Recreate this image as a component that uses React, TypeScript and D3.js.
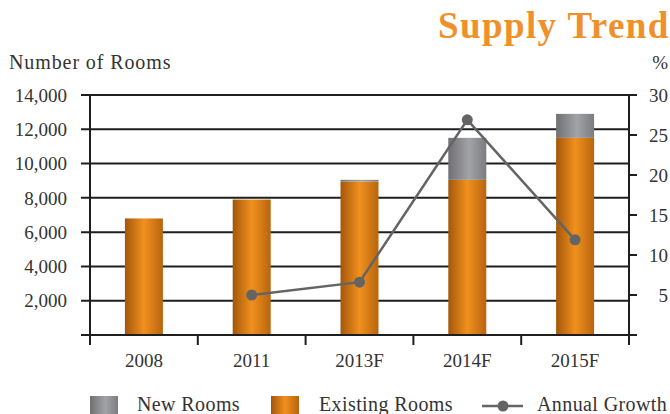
import { useEffect, useRef } from 'react';
import * as d3 from 'd3';

const categories = ['2008', '2011', '2013F', '2014F', '2015F'];
const existingRooms = [6800, 7900, 8950, 9050, 11500];
const newRooms = [0, 0, 100, 2450, 1400];
const annualGrowth: (number | null)[] = [null, 5.0, 6.6, 26.9, 11.9];
const leftTicks = [2000, 4000, 6000, 8000, 10000, 12000, 14000];
const rightTicks = [5, 10, 15, 20, 25, 30];

const W = 670;
const H = 414;
const FONT = '"Liberation Serif", "DejaVu Serif", serif';

export default function App() {
  const svgRef = useRef<SVGSVGElement>(null);

  useEffect(() => {
    if (!svgRef.current) return;
    const svg = d3.select(svgRef.current);
    svg.selectAll('*').remove();

    const left = 90;
    const right = 629;
    const top = 95;
    const bottom = 335;

    const x = d3.scaleBand<string>().domain(categories).range([left, right]).paddingInner(0).paddingOuter(0);
    const yL = d3.scaleLinear().domain([0, 14000]).range([bottom, top]);
    const yR = d3.scaleLinear().domain([0, 30]).range([bottom, top]);
    const barW = 38;

    // gradients
    const defs = svg.append('defs');
    const orange = defs.append('linearGradient').attr('id', 'orangeGrad').attr('x1', '0%').attr('x2', '100%');
    orange.append('stop').attr('offset', '0%').attr('stop-color', '#a3570b');
    orange.append('stop').attr('offset', '50%').attr('stop-color', '#f1901e');
    orange.append('stop').attr('offset', '100%').attr('stop-color', '#b8650f');
    const grey = defs.append('linearGradient').attr('id', 'greyGrad').attr('x1', '0%').attr('x2', '100%');
    grey.append('stop').attr('offset', '0%').attr('stop-color', '#707073');
    grey.append('stop').attr('offset', '55%').attr('stop-color', '#a2a3a6');
    grey.append('stop').attr('offset', '100%').attr('stop-color', '#7c7c80');

    // title
    svg.append('text')
      .attr('x', 438).attr('y', 38)
      .attr('font-family', FONT).attr('font-weight', 'bold')
      .attr('font-size', 37).attr('letter-spacing', 1.4).attr('fill', '#f0902a')
      .text('Supply Trend');

    svg.append('text')
      .attr('x', 9).attr('y', 69)
      .attr('font-family', FONT).attr('font-size', 20).attr('letter-spacing', 0.9).attr('fill', '#333')
      .text('Number of Rooms');
    svg.append('text')
      .attr('x', 668).attr('y', 69).attr('text-anchor', 'end')
      .attr('font-family', FONT).attr('font-size', 19).attr('fill', '#333')
      .text('%');

    // gridlines (left scale)
    svg.append('g').selectAll('line')
      .data(leftTicks)
      .enter().append('line')
      .attr('x1', left - 9).attr('x2', right)
      .attr('y1', d => yL(d)).attr('y2', d => yL(d))
      .attr('stroke', '#1e1e1e').attr('stroke-width', 2);

    // bars
    const bars = svg.append('g');
    categories.forEach((c, i) => {
      const cx = (x(c) ?? 0) + x.bandwidth() / 2;
      bars.append('rect')
        .attr('x', cx - barW / 2).attr('width', barW)
        .attr('y', yL(existingRooms[i])).attr('height', yL(0) - yL(existingRooms[i]))
        .attr('fill', 'url(#orangeGrad)');
      if (newRooms[i] > 0) {
        const top2 = existingRooms[i] + newRooms[i];
        bars.append('rect')
          .attr('x', cx - barW / 2).attr('width', barW)
          .attr('y', yL(top2)).attr('height', yL(existingRooms[i]) - yL(top2))
          .attr('fill', 'url(#greyGrad)');
      }
    });

    // axes
    const ax = svg.append('g').attr('stroke', '#1e1e1e').attr('stroke-width', 2);
    ax.append('line').attr('x1', left).attr('x2', left).attr('y1', top - 1).attr('y2', bottom + 10);
    ax.append('line').attr('x1', right).attr('x2', right).attr('y1', top - 1).attr('y2', bottom + 10);
    ax.append('line').attr('x1', left - 9).attr('x2', right + 8).attr('y1', bottom).attr('y2', bottom);
    ax.append('line').attr('x1', right).attr('x2', right + 8).attr('y1', top).attr('y2', top);
    // category boundary ticks
    ax.selectAll('.xt')
      .data(categories.slice(1))
      .enter().append('line')
      .attr('x1', d => x(d) ?? 0).attr('x2', d => x(d) ?? 0)
      .attr('y1', bottom).attr('y2', bottom + 10);
    // right ticks
    ax.selectAll('.rt')
      .data(rightTicks)
      .enter().append('line')
      .attr('x1', right).attr('x2', right + 8)
      .attr('y1', d => yR(d)).attr('y2', d => yR(d));

    // tick labels
    svg.append('g').selectAll('text')
      .data(leftTicks)
      .enter().append('text')
      .attr('x', 67).attr('y', d => yL(d)).attr('dy', '0.35em')
      .attr('text-anchor', 'end')
      .attr('font-family', FONT).attr('font-size', 19).attr('fill', '#333')
      .text(d => d3.format(',')(d));
    svg.append('g').selectAll('text')
      .data(rightTicks)
      .enter().append('text')
      .attr('x', 668).attr('y', d => yR(d)).attr('dy', '0.35em')
      .attr('text-anchor', 'end')
      .attr('font-family', FONT).attr('font-size', 19).attr('fill', '#333')
      .text(d => String(d));
    svg.append('g').selectAll('text')
      .data(categories)
      .enter().append('text')
      .attr('x', d => (x(d) ?? 0) + x.bandwidth() / 2).attr('y', 367)
      .attr('text-anchor', 'middle')
      .attr('font-family', FONT).attr('font-size', 19).attr('fill', '#333')
      .text(d => d);

    // growth line
    const pts = categories
      .map((c, i) => ({ c, v: annualGrowth[i] }))
      .filter(d => d.v !== null) as { c: string; v: number }[];
    const line = d3.line<{ c: string; v: number }>()
      .x(d => (x(d.c) ?? 0) + x.bandwidth() / 2)
      .y(d => yR(d.v));
    svg.append('path')
      .datum(pts)
      .attr('d', line)
      .attr('fill', 'none').attr('stroke', '#646464').attr('stroke-width', 2.5);
    svg.append('g').selectAll('circle')
      .data(pts)
      .enter().append('circle')
      .attr('cx', d => (x(d.c) ?? 0) + x.bandwidth() / 2)
      .attr('cy', d => yR(d.v))
      .attr('r', 5.5).attr('fill', '#646464');

    // legend
    const lg = svg.append('g').attr('font-family', FONT).attr('font-size', 20)
      .attr('letter-spacing', 0.4).attr('fill', '#333');
    lg.append('rect').attr('x', 90).attr('y', 396).attr('width', 28).attr('height', 18).attr('fill', 'url(#greyGrad)');
    lg.append('text').attr('x', 137).attr('y', 411).text('New Rooms');
    lg.append('rect').attr('x', 271).attr('y', 396).attr('width', 28).attr('height', 18).attr('fill', 'url(#orangeGrad)');
    lg.append('text').attr('x', 319).attr('y', 411).text('Existing Rooms');
    lg.append('line').attr('x1', 482).attr('x2', 523).attr('y1', 406).attr('y2', 406)
      .attr('stroke', '#646464').attr('stroke-width', 2.5);
    lg.append('circle').attr('cx', 503).attr('cy', 406).attr('r', 5.5).attr('fill', '#646464');
    lg.append('text').attr('x', 537).attr('y', 411).text('Annual Growth');
  }, []);

  return (
    <div style={{ position: 'absolute', left: 0, top: 0, width: W, height: H, background: '#fff' }}>
      <svg ref={svgRef} width={W} height={H} />
    </div>
  );
}
